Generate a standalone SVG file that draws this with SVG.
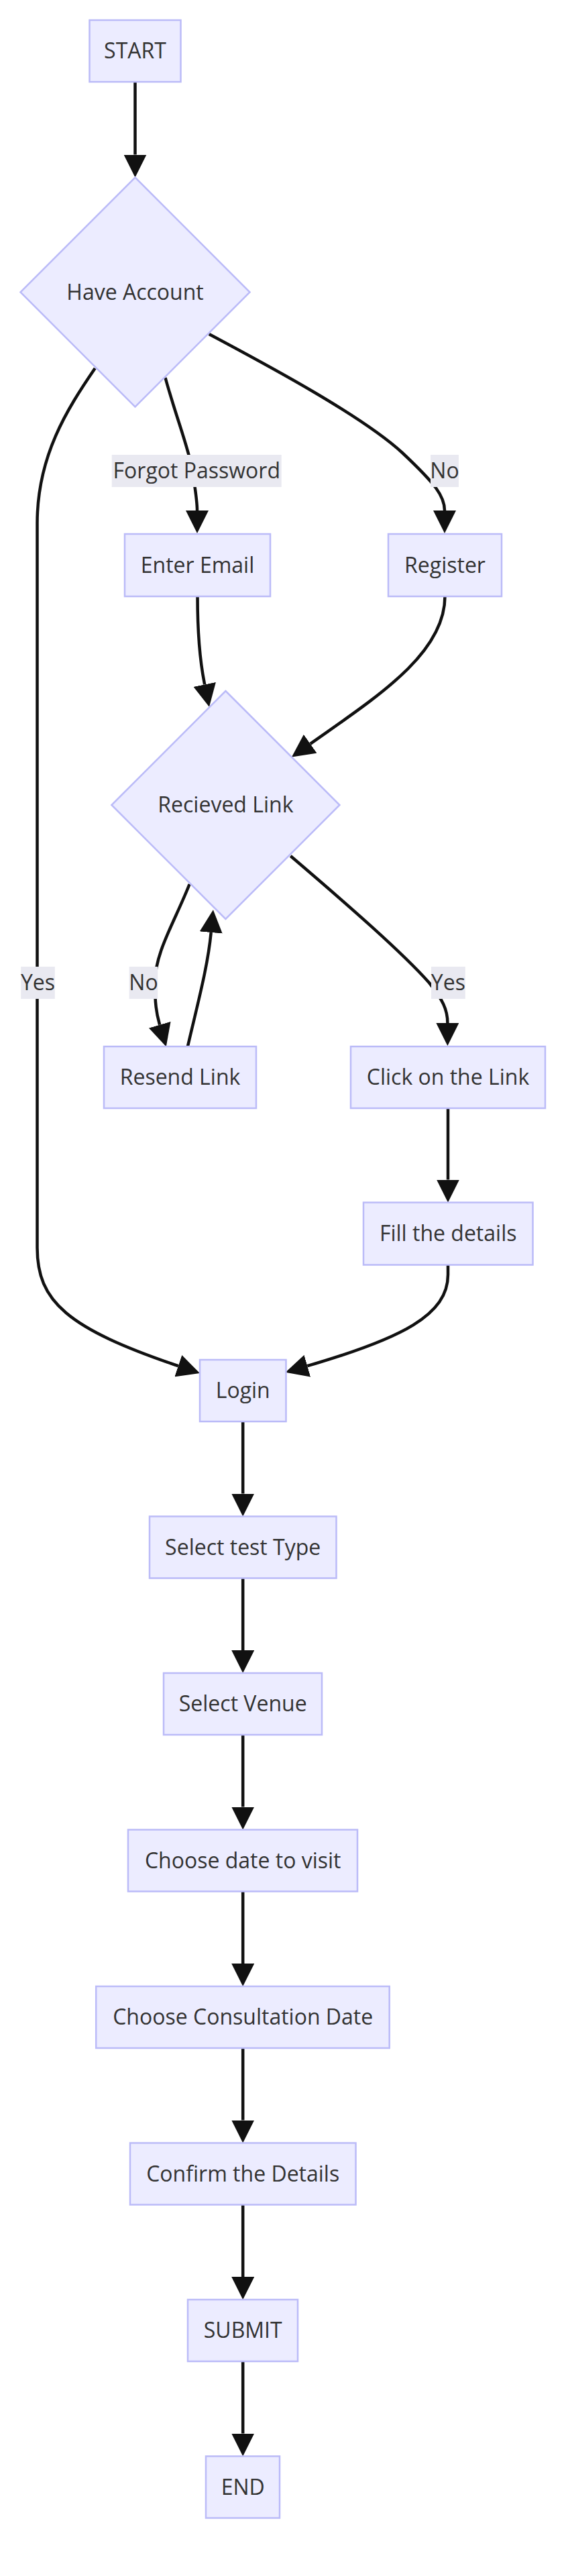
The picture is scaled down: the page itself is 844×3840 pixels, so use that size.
<svg xmlns="http://www.w3.org/2000/svg" width="844" height="3840" viewBox="0 0 844 3840">
<defs>
<marker id="arr" viewBox="0 0 10 10" refX="0" refY="5" markerUnits="userSpaceOnUse" markerWidth="34" markerHeight="34" orient="auto"><path d="M0,0 L10,5 L0,10 z" fill="#111"/></marker>
<style>
.n{fill:#ECECFF;stroke:#BBBBF8;stroke-width:2.5}
.t{font-family:"Open Sans","Noto Sans",sans-serif;font-size:32px;fill:#333;text-anchor:middle}
.e{fill:none;stroke:#111;stroke-width:4.5;marker-end:url(#arr)}
.lb{fill:#E9E9F1}
</style>
</defs>
<rect width="844" height="3840" fill="#fff"/>
<g id="connectors">
<path class="e" d="M201.5,122 L201.5,230.5"/>
<path class="e" d="M246.5,563 C262,620 282,670 287,702 C291,730 294,745 294,761"/>
<path class="e" d="M311.7,498 C400,545 540,620 600,675 C650,722 663,740 663,761"/>
<path class="e" d="M141.7,549 C100,610 55.5,680 55.5,780 L55.5,1860 C55.5,1940 100,1980 265.8,2036.2"/>
<path class="e" d="M294.5,889 C294.5,950 300,995 305.2,1020.4"/>
<path class="e" d="M663.5,889 C663.5,975 560,1040 462.7,1108.8"/>
<path class="e" d="M282.6,1318 C260,1375 231,1420 231,1465 C231,1495 233,1510 238.2,1527.7"/>
<path class="e" d="M279.9,1560 C295,1495 310,1440 314.7,1390"/>
<path class="e" d="M433.3,1276 C520,1350 600,1420 640,1465 C660,1490 667.4,1505 667.4,1525"/>
<path class="e" d="M668,1652 L668,1758.5"/>
<path class="e" d="M668,1886 L668,1900 C668,1960 600,1995 458.3,2036.2"/>
<path class="e" d="M362.2,2119 L362.2,2226.5"/>
<path class="e" d="M362.2,2352.5 L362.2,2460"/>
<path class="e" d="M362.2,2586 L362.2,2693.5"/>
<path class="e" d="M362.2,2819.5 L362.2,2927"/>
<path class="e" d="M362.2,3053 L362.2,3160.5"/>
<path class="e" d="M362.2,3286.5 L362.2,3394"/>
<path class="e" d="M362.2,3520 L362.2,3627.5"/>
<g id="edge-labels">
<rect class="lb" x="166.7" y="678" width="253" height="48"/><text class="t" x="293.3" y="713">Forgot Password</text>
<rect class="lb" x="642" y="678" width="42" height="48"/><text class="t" x="663" y="713">No</text>
<rect class="lb" x="31.2" y="1441" width="50.6" height="48"/><text class="t" x="56.5" y="1476">Yes</text>
<rect class="lb" x="192.7" y="1441" width="42.5" height="48"/><text class="t" x="214" y="1476">No</text>
<rect class="lb" x="643" y="1441" width="50.8" height="48"/><text class="t" x="668.4" y="1476">Yes</text>
</g>
</g>
<g id="start"><rect class="n" x="133.5" y="30" width="136" height="92"/><text class="t" x="201.5" y="87">START</text></g>
<g id="have-account"><polygon class="n" points="201.5,264.5 372.5,435.5 201.5,606.5 30.5,435.5"/><text class="t" x="201.5" y="446.5">Have Account</text></g>
<g id="enter-email"><rect class="n" x="186" y="796" width="217" height="93"/><text class="t" x="294.5" y="854">Enter Email</text></g>
<g id="register"><rect class="n" x="579" y="796" width="169" height="93"/><text class="t" x="663.5" y="854">Register</text></g>
<g id="recieved-link"><polygon class="n" points="336.4,1030 506.4,1200 336.4,1370 166.4,1200"/><text class="t" x="336.4" y="1211">Recieved Link</text></g>
<g id="resend-link"><rect class="n" x="155" y="1560" width="227" height="92"/><text class="t" x="268.5" y="1617">Resend Link</text></g>
<g id="click-link"><rect class="n" x="523" y="1560" width="290" height="92"/><text class="t" x="668" y="1617">Click on the Link</text></g>
<g id="fill-details"><rect class="n" x="542" y="1792.5" width="252.5" height="93"/><text class="t" x="668.2" y="1850">Fill the details</text></g>
<g id="login"><rect class="n" x="298" y="2027" width="128.5" height="92"/><text class="t" x="362.2" y="2084">Login</text></g>
<g id="select-test-type"><rect class="n" x="223" y="2260.5" width="278.5" height="92"/><text class="t" x="362.2" y="2317.5">Select test Type</text></g>
<g id="select-venue"><rect class="n" x="244" y="2494" width="236" height="92"/><text class="t" x="362.2" y="2551">Select Venue</text></g>
<g id="choose-date"><rect class="n" x="191" y="2727.5" width="342" height="92"/><text class="t" x="362.2" y="2784.5">Choose date to visit</text></g>
<g id="choose-consultation"><rect class="n" x="143.2" y="2961" width="437.5" height="92"/><text class="t" x="362.2" y="3018">Choose Consultation Date</text></g>
<g id="confirm-details"><rect class="n" x="194" y="3194.5" width="336.5" height="92"/><text class="t" x="362.2" y="3251.5">Confirm the Details</text></g>
<g id="submit"><rect class="n" x="280" y="3428" width="164" height="92"/><text class="t" x="362.2" y="3485">SUBMIT</text></g>
<g id="end"><rect class="n" x="307" y="3661.5" width="110" height="92"/><text class="t" x="362.2" y="3718.5">END</text></g>
</svg>
